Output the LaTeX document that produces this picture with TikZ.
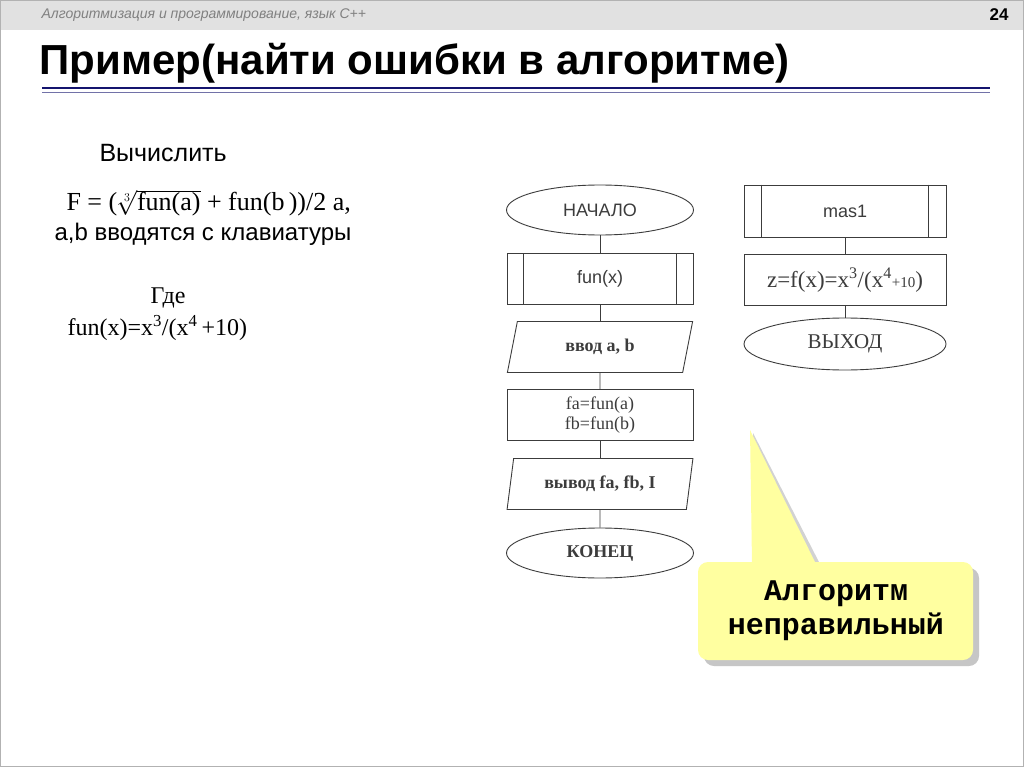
\documentclass[tikz,border=0pt]{standalone}
\usepackage{fontspec}
\setmainfont{Liberation Serif}
\setsansfont{Liberation Sans}
\newfontfamily\monob{Liberation Mono}
\usetikzlibrary{shapes.geometric,shadows}
\definecolor{fc}{RGB}{60,60,60}
\definecolor{barg}{RGB}{225,225,225}
\definecolor{tblue}{RGB}{20,20,110}
\definecolor{cally}{RGB}{255,255,160}
\tikzset{
 ln/.style={draw=fc,line width=0.9pt},
 term/.style={ln,ellipse,minimum width=187pt,minimum height=50pt,inner sep=0pt,font=\sffamily\fontsize{18}{20}\selectfont,text=fc},
 proc/.style={ln,rectangle,minimum width=186pt,minimum height=51pt,inner sep=0pt,font=\sffamily\fontsize{18}{20}\selectfont,text=fc,align=center},
 io/.style={ln,trapezium,trapezium left angle=75,trapezium right angle=105,trapezium stretches=true,minimum width=186pt,minimum height=51pt,inner sep=0pt,font=\sffamily\fontsize{18}{20}\selectfont,text=fc},
}
\begin{document}
\begin{tikzpicture}[x=1pt,y=-1pt]
\useasboundingbox (0,0) rectangle (1024,767);
\fill[white] (0,0) rectangle (1024,767);
\fill[barg] (0,0) rectangle (1024,30);
\draw[gray!60] (0.5,0.5) rectangle (1023.5,766.5);
\node[anchor=west,text=gray,font=\sffamily\itshape\fontsize{14}{16}\selectfont] (hdr) at (38,15) {Алгоритмизация и программирование, язык С++};
\node[anchor=east,font=\sffamily\bfseries\fontsize{17}{19}\selectfont] (num) at (1012,15) {24};
\node[anchor=west,font=\sffamily\bfseries\fontsize{42}{46}\selectfont] (title) at (36,63) {Пример(найти ошибки в алгоритме)};
\draw[tblue,line width=2.5pt] (42,88) -- (990,88);
\draw[tblue!60,line width=0.6pt] (42,92) -- (990,92);
% left text
\node[anchor=west,font=\sffamily\fontsize{25}{28}\selectfont] (vy) at (96,153) {Вычислить};
\node[anchor=west,font=\fontsize{26}{28}\selectfont] (F) at (63,203) {F = ($\sqrt[3]{\mbox{fun(a)}}$ + fun(b\,))/2 a,};
\node[anchor=west,font=\sffamily\fontsize{24}{28}\selectfont] (ab) at (51,234) {a,b вводятся с клавиатуры};
\node[font=\fontsize{24}{26}\selectfont] (gde) at (168,298) {Где};
\node[anchor=west,font=\fontsize{24}{26}\selectfont] (fun) at (64,328) {fun(x)=x\textsuperscript{3}/(x\textsuperscript{4}\,+10)};
% flowchart left
\node[term] (s) at (600,210) {НАЧАЛО};
\node[proc] (f) at (600,279) {fun(x)};
\draw[ln] ([xshift=17pt]f.north west) -- ([xshift=17pt]f.south west);
\draw[ln] ([xshift=-17pt]f.north east) -- ([xshift=-17pt]f.south east);
\node[io] (in) at (600,347) {\rmfamily\bfseries ввод a, b};
\node[proc,font=\rmfamily\fontsize{18}{20}\selectfont] (calc) at (600,415) {fa=fun(a)\\fb=fun(b)};
\node[io] (out) at (600,484) {\rmfamily\bfseries вывод fa, fb, I};
\node[term] (e) at (600,553) {\rmfamily\bfseries КОНЕЦ};
\draw[ln] (s) -- (f); \draw[ln] (f) -- (in); \draw[ln] (in) -- (calc);
\draw[ln] (calc) -- (out); \draw[ln] (out) -- (e);
% flowchart right
\node[proc,minimum width=202pt,minimum height=52pt] (m) at (845,211) {mas1};
\draw[ln] ([xshift=18pt]m.north west) -- ([xshift=18pt]m.south west);
\draw[ln] ([xshift=-18pt]m.north east) -- ([xshift=-18pt]m.south east);
\node[proc,minimum width=202pt,font=\rmfamily\fontsize{23}{25}\selectfont] (z) at (845,280) {z=f(x)=x\textsuperscript{3}/(x\textsuperscript{4}{\fontsize{15}{17}\selectfont+10})};
\node[term,minimum width=202pt,minimum height=52pt,font=\rmfamily\fontsize{21}{23}\selectfont] (x) at (845,344) {ВЫХОД};
\draw[ln] (m) -- (z); \draw[ln] (z) -- (x);
% callout
\fill[gray!45,rounded corners=10pt] (704,568) rectangle (979,666);
\fill[gray!35] (756,566) -- (753,433) -- (821,566) -- cycle;
\fill[cally,rounded corners=10pt] (698,562) rectangle (973,660);
\fill[cally] (752,564) -- (750,430) -- (816,564) -- cycle;
\node[align=center,font=\monob\bfseries\fontsize{30}{34}\selectfont] (cl) at (836,611) {Алгоритм\\неправильный};
\end{tikzpicture}
\end{document}
